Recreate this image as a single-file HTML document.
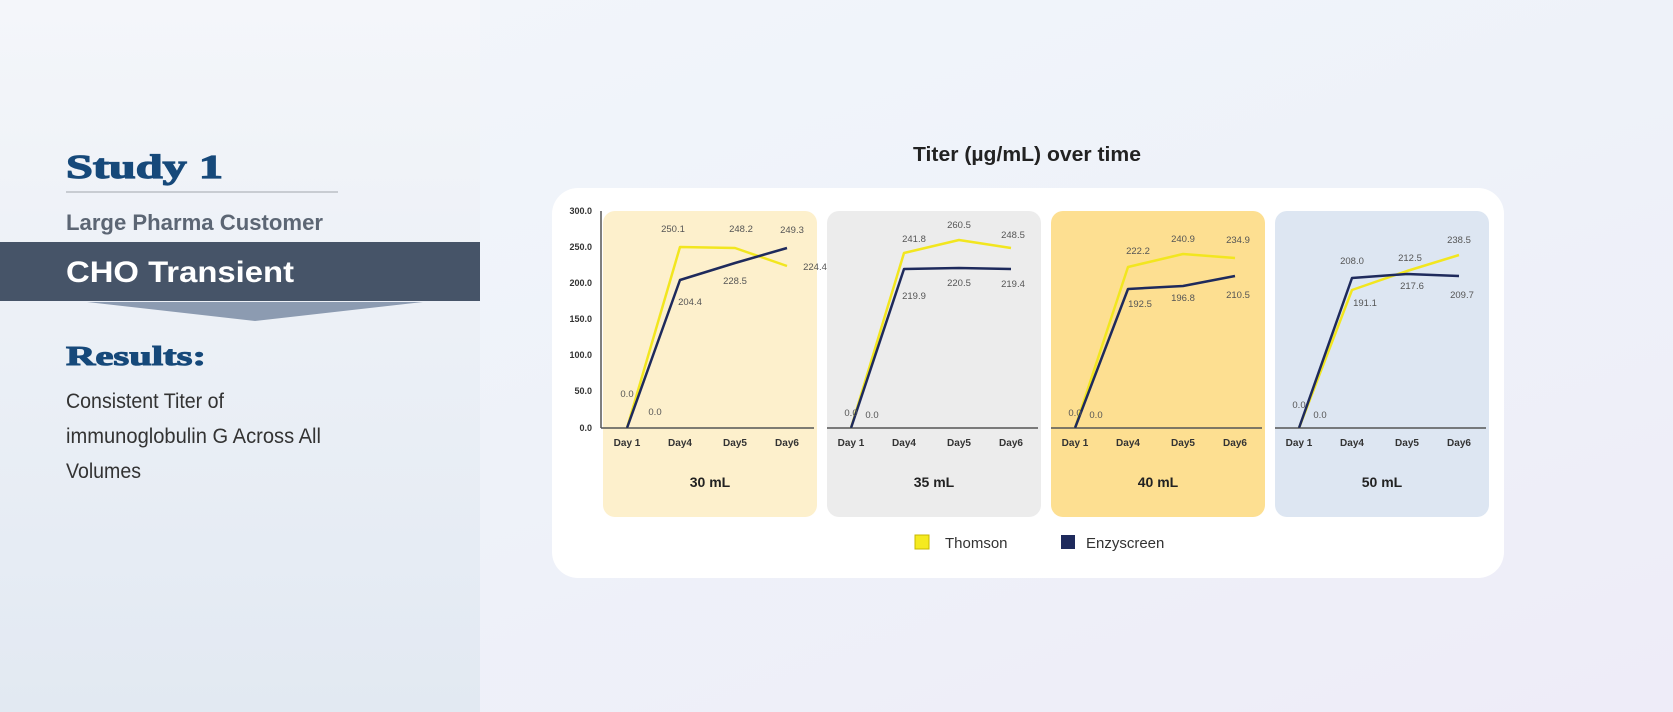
<!DOCTYPE html>
<html><head><meta charset="utf-8"><style>
body{margin:0;width:1673px;height:712px;overflow:hidden;font-family:"Liberation Sans",sans-serif;background:linear-gradient(160deg,#f3f6fb 0%,#eef2f9 50%,#eeecf8 100%);}
</style></head><body>
<svg width="1673" height="712" xmlns="http://www.w3.org/2000/svg" style="position:absolute;left:0;top:0">
<defs><linearGradient id="lg" x1="0" y1="0" x2="0" y2="1"><stop offset="0" stop-color="#f4f6fa"/><stop offset="1" stop-color="#e2e9f2"/></linearGradient></defs>
<rect x="0" y="0" width="480" height="712" fill="url(#lg)"/>
<text x="66" y="178" style="font-family:'Liberation Serif',serif;font-weight:bold;font-size:34px" fill="#16497a" textLength="157" lengthAdjust="spacingAndGlyphs" stroke="#16497a" stroke-width="1.2">Study 1</text>
<line x1="66" y1="192" x2="338" y2="192" stroke="#c8ccd2" stroke-width="2"/>
<text x="66" y="230" style="font-weight:bold;font-size:22px" fill="#5c6674" textLength="257" lengthAdjust="spacingAndGlyphs">Large Pharma Customer</text>
<rect x="0" y="242" width="480" height="59" fill="#465468"/>
<text x="66" y="282" style="font-weight:bold;font-size:30px" fill="#fff" textLength="228" lengthAdjust="spacingAndGlyphs">CHO Transient</text>
<polygon points="87,302 423,302 255,321" fill="#8c9bb1"/>
<text x="66" y="365" style="font-family:'Liberation Serif',serif;font-weight:bold;font-size:27px" fill="#16497a" textLength="140" lengthAdjust="spacingAndGlyphs" stroke="#16497a" stroke-width="1">Results:</text>
<g style="font-size:21px" fill="#333">
<text x="66" y="408" textLength="158" lengthAdjust="spacingAndGlyphs">Consistent Titer of</text><text x="66" y="443" textLength="255" lengthAdjust="spacingAndGlyphs">immunoglobulin G Across All</text><text x="66" y="478" textLength="75" lengthAdjust="spacingAndGlyphs">Volumes</text></g>
<text x="913" y="161" style="font-weight:bold;font-size:20px" fill="#222" textLength="228" lengthAdjust="spacingAndGlyphs">Titer (µg/mL) over time</text>
<rect x="552" y="188" width="952" height="390" rx="26" fill="#fff"/>
<rect x="603" y="211" width="214" height="306" rx="12" fill="#fdf0cc"/>
<rect x="827" y="211" width="214" height="306" rx="12" fill="#ececec"/>
<rect x="1051" y="211" width="214" height="306" rx="12" fill="#fddf91"/>
<rect x="1275" y="211" width="214" height="306" rx="12" fill="#dde6f2"/>
<g stroke="#555" stroke-width="1.5"><line x1="601" y1="211" x2="601" y2="428"/>
<line x1="601" y1="428" x2="814" y2="428"/><line x1="827" y1="428" x2="1038" y2="428"/><line x1="1051" y1="428" x2="1262" y2="428"/><line x1="1275" y1="428" x2="1486" y2="428"/></g>
<g font-size="9" font-weight="bold" fill="#333" text-anchor="end">
<text x="592" y="214">300.0</text><text x="592" y="250">250.0</text><text x="592" y="286">200.0</text><text x="592" y="322">150.0</text><text x="592" y="358">100.0</text><text x="592" y="394">50.0</text><text x="592" y="431">0.0</text></g>
<g font-size="10" font-weight="bold" fill="#333" text-anchor="middle">
<text x="627" y="446">Day 1</text><text x="680" y="446">Day4</text><text x="735" y="446">Day5</text><text x="787" y="446">Day6</text>
<text x="851" y="446">Day 1</text><text x="904" y="446">Day4</text><text x="959" y="446">Day5</text><text x="1011" y="446">Day6</text>
<text x="1075" y="446">Day 1</text><text x="1128" y="446">Day4</text><text x="1183" y="446">Day5</text><text x="1235" y="446">Day6</text>
<text x="1299" y="446">Day 1</text><text x="1352" y="446">Day4</text><text x="1407" y="446">Day5</text><text x="1459" y="446">Day6</text></g>
<g font-size="14" font-weight="bold" fill="#222" text-anchor="middle">
<text x="710" y="487">30 mL</text><text x="934" y="487">35 mL</text><text x="1158" y="487">40 mL</text><text x="1382" y="487">50 mL</text></g>
<g fill="none" stroke-width="2.5" stroke-linejoin="round">
<polyline stroke="#f2e61f" points="627,428 680,247 735,248 787,266"/>
<polyline stroke="#1e2a5c" points="627,428 680,280 735,263 787,248"/>
<polyline stroke="#f2e61f" points="851,428 904,253 959,240 1011,248"/>
<polyline stroke="#1e2a5c" points="851,428 904,269 959,268 1011,269"/>
<polyline stroke="#f2e61f" points="1075,428 1128,267 1183,254 1235,258"/>
<polyline stroke="#1e2a5c" points="1075,428 1128,289 1183,286 1235,276"/>
<polyline stroke="#f2e61f" points="1299,428 1352,290 1407,271 1459,255"/>
<polyline stroke="#1e2a5c" points="1299,428 1352,278 1407,274 1459,276"/>
</g>
<g font-size="9.5" fill="#555" text-anchor="middle">
<text x="673" y="232">250.1</text><text x="741" y="232">248.2</text><text x="792" y="233">249.3</text><text x="815" y="270">224.4</text><text x="735" y="284">228.5</text><text x="690" y="305">204.4</text><text x="627" y="397">0.0</text><text x="655" y="415">0.0</text>
<text x="914" y="242">241.8</text><text x="959" y="228">260.5</text><text x="1013" y="238">248.5</text><text x="914" y="299">219.9</text><text x="959" y="286">220.5</text><text x="1013" y="287">219.4</text><text x="851" y="416">0.0</text><text x="872" y="418">0.0</text>
<text x="1138" y="254">222.2</text><text x="1183" y="242">240.9</text><text x="1238" y="243">234.9</text><text x="1140" y="307">192.5</text><text x="1183" y="301">196.8</text><text x="1238" y="298">210.5</text><text x="1075" y="416">0.0</text><text x="1096" y="418">0.0</text>
<text x="1352" y="264">208.0</text><text x="1410" y="261">212.5</text><text x="1459" y="243">238.5</text><text x="1365" y="306">191.1</text><text x="1412" y="289">217.6</text><text x="1462" y="298">209.7</text><text x="1299" y="408">0.0</text><text x="1320" y="418">0.0</text></g>
<rect x="915" y="535" width="14" height="14" fill="#f5ea20" stroke="#c8b800"/>
<text x="945" y="548" font-size="15" fill="#333">Thomson</text>
<rect x="1061" y="535" width="14" height="14" fill="#1e2a5c"/>
<text x="1086" y="548" font-size="15" fill="#333">Enzyscreen</text>
</svg>
</body></html>
